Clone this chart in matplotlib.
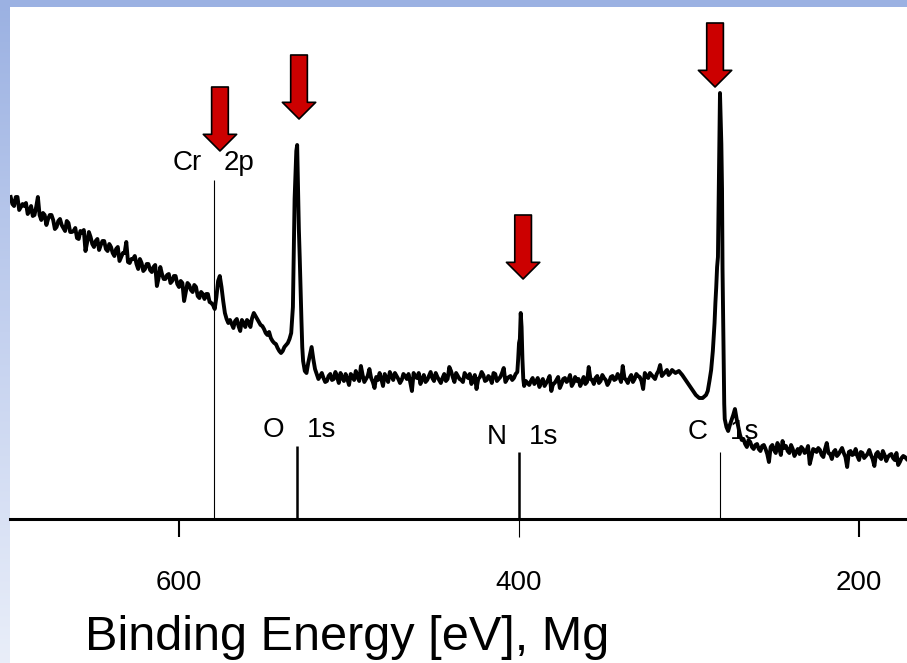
import numpy as np
import matplotlib.pyplot as plt
from matplotlib.colors import LinearSegmentedColormap

# XPS survey spectrum, piece by piece (counts in arbitrary units)
hi_e = list(range(699, 579, -1))
hi_c = [322, 315, 313, 322, 322, 309, 312, 315, 313, 316,
        305, 308, 313, 303, 304, 312, 322, 304, 299, 306,
        304, 294, 300, 304, 304, 299, 290, 292, 298, 300,
        294, 291, 288, 298, 296, 287, 287, 288, 291, 281,
        280, 288, 286, 289, 268, 277, 287, 282, 275, 272,
        278, 280, 269, 274, 278, 278, 270, 268, 275, 272,
        266, 263, 270, 272, 258, 262, 266, 266, 277, 257,
        256, 260, 260, 263, 255, 250, 260, 256, 248, 250,
        255, 255, 249, 247, 252, 254, 233, 241, 252, 245,
        240, 240, 244, 245, 236, 238, 243, 243, 235, 232,
        238, 236, 218, 227, 236, 234, 229, 227, 234, 232,
        223, 221, 227, 225, 220, 225, 225, 217, 216, 214]

cr_e = [579, 578, 577, 576, 575, 574, 573, 572, 571]
cr_c = [210, 222, 238, 243, 232, 218, 206, 200, 196]

mid_e = list(range(570, 535, -1))
mid_c = [199, 195, 191, 198, 200, 193, 188, 199, 196, 192,
         199, 197, 192, 201, 206, 203, 200, 197, 194, 193,
         190, 186, 184, 187, 181, 178, 176, 175, 171, 168,
         166, 168, 172, 174, 176]

o_e = [535, 534, 533, 532, 531, 530.5, 530, 529.5, 529, 528.5, 528, 527.5, 527,
       526, 525, 524, 523, 522, 521, 520, 519]
o_c = [180, 186, 212, 320, 368, 374, 332, 290, 262, 229, 200, 172, 158,
       148, 146, 156, 164, 172, 160, 150, 145]

flat_e = list(range(518, 401, -1))
flat_c = [140, 143, 146, 141, 137, 138, 143, 145, 139, 140,
          147, 142, 136, 146, 141, 138, 145, 140, 134, 145,
          143, 139, 148, 142, 138, 153, 144, 137, 140, 143,
          150, 141, 137, 131, 142, 139, 146, 140, 133, 145,
          141, 137, 147, 143, 139, 146, 143, 140, 136, 139,
          145, 143, 140, 145, 137, 128, 146, 142, 141, 146,
          135, 140, 144, 137, 139, 143, 147, 141, 138, 146,
          142, 139, 136, 141, 145, 138, 140, 152, 148, 142,
          137, 146, 143, 140, 139, 137, 146, 143, 141, 145,
          135, 140, 144, 130, 140, 142, 147, 144, 138, 139,
          143, 141, 136, 146, 145, 138, 140, 142, 146, 151,
          137, 140, 142, 143, 139, 141, 145]

n_e = [401, 400.5, 400, 399.5, 399, 398.5, 398, 397.5, 397, 396]
n_c = [147, 160, 176, 180, 206, 192, 160, 140, 133, 138]

flat2_e = list(range(395, 309, -1))
flat2_c = [136, 134, 138, 141, 135, 137, 141, 132, 137, 140,
           133, 136, 139, 143, 128, 135, 136, 139, 142, 131,
           135, 140, 141, 137, 139, 144, 133, 136, 142, 138,
           140, 133, 137, 142, 135, 137, 152, 140, 139, 135,
           141, 143, 136, 138, 144, 141, 139, 134, 137, 142,
           143, 139, 140, 145, 142, 137, 153, 141, 139, 136,
           141, 144, 137, 140, 145, 143, 142, 138, 130, 146,
           143, 141, 146, 144, 142, 140, 145, 148, 154, 143,
           145, 147, 149, 144, 146, 149]

c_e = [308, 306, 304, 302, 300, 298, 296, 294, 292, 290, 289, 288, 287, 286,
       285.5, 285, 284.5, 284, 283.5, 283, 282.5, 282, 281.8, 281.4, 281, 280.6,
       280.3, 280, 279.6, 279.3, 279, 278, 277, 276, 275, 274, 273, 272, 271, 270,
       269]
c_c = [146, 148, 144, 139, 134, 129, 124, 121, 121, 124, 128, 138, 149, 168,
       182, 196, 216, 232, 252, 262, 330, 400, 426, 400, 375, 330,
       250, 210, 150, 115, 100, 92, 88, 94, 99, 104, 110, 100, 92, 84,
       79]

lo_e = list(range(268, 171, -1))
lo_c = [80, 75, 72, 79, 77, 72, 70, 74, 75, 70,
        68, 73, 74, 70, 65, 57, 72, 74, 69, 66,
        76, 71, 64, 78, 71, 73, 68, 66, 74, 70,
        63, 67, 70, 65, 72, 70, 66, 68, 73, 55,
        62, 70, 69, 67, 71, 69, 64, 62, 70, 76,
        66, 65, 60, 67, 69, 63, 65, 68, 71, 66,
        62, 52, 67, 68, 64, 65, 70, 63, 59, 67,
        66, 61, 63, 65, 69, 64, 60, 53, 65, 67,
        62, 60, 68, 64, 58, 62, 64, 65, 61, 59,
        66, 54, 57, 61, 63, 62, 60]

energy = hi_e + cr_e + mid_e + o_e + flat_e + n_e + flat2_e + c_e + lo_e
counts = hi_c + cr_c + mid_c + o_c + flat_c + n_c + flat2_c + c_c + lo_c

# peak assignments
peak_names = ['Cr', 'O', 'N', 'C']
peak_orbitals = ['2p', '1s', '1s', '1s']
marker_e = [579.4, 530.6, 400.0, 281.8]
marker_top = [339, 73, 67, 67]
marker_lw = [0.8, 1.8, 1.8, 0.8]
label_y = [356, 89, 82, 87]
arrow_e = [575.9, 529.4, 397.6, 284.7]
arrow_tip = [368, 400, 240, 432]

plt.rcParams['font.family'] = ['Liberation Sans', 'DejaVu Sans']

fig = plt.figure(figsize=(9.07, 6.63), dpi=100)

# slide frame: blue bar on top, fading strip on the left
bg = fig.add_axes([0, 0, 1, 1], zorder=-1)
strip = LinearSegmentedColormap.from_list('strip', ['#9bb1e2', '#c4d1ef', '#e9eef9'])
bg.imshow(np.linspace(0, 1, 256)[:, None], cmap=strip, aspect='auto',
          extent=(0, 10, 663, 0))
bg.add_patch(plt.Rectangle((0, 0), 907, 7, color='#9bb1e2', lw=0))
bg.set_xlim(0, 907)
bg.set_ylim(663, 0)
bg.set_axis_off()

ax = fig.add_axes([10/907, 144/663, 897/907, 512/663])
ax.patch.set_alpha(0)
ax.plot(energy, counts, color='black', lw=2.8, zorder=3)

for e, top, lw in zip(marker_e, marker_top, marker_lw):
    ax.vlines(e, 0, top, color='black', lw=lw, zorder=2)

for e, y, name, orb in zip(marker_e, label_y, peak_names, peak_orbitals):
    ax.annotate(name, (e, y), xytext=(-9, 0), textcoords='offset points',
                ha='right', va='center', fontsize=20, zorder=1)
    ax.annotate(orb, (e, y), xytext=(7, 0), textcoords='offset points',
                ha='left', va='center', fontsize=20, zorder=1)

for e, tip in zip(arrow_e, arrow_tip):
    ax.annotate('', xy=(e, tip), xytext=(e, tip + 64),
                arrowprops=dict(arrowstyle='simple,head_length=12,head_width=24,tail_width=12',
                                mutation_scale=1, fc='#cc0000', ec='black', lw=1.2,
                                shrinkA=0, shrinkB=0), zorder=4)

ax.set_xlim(699.4, 171.8)
ax.set_ylim(0, 512)
for s in ['top', 'left', 'right']:
    ax.spines[s].set_visible(False)
ax.spines['bottom'].set_linewidth(2.2)
ax.set_yticks([])
ax.set_xticks([600, 400, 200])
ax.tick_params(axis='x', direction='out', length=13, width=1.5, pad=24, labelsize=20)
ax.xaxis.get_major_ticks()[1].tick1line.set_markeredgewidth(0.8)

fig.text(85/907, 13/663, 'Binding Energy [eV], Mg', fontsize=35, ha='left', va='baseline')

fig.savefig('out.png', dpi=100)
